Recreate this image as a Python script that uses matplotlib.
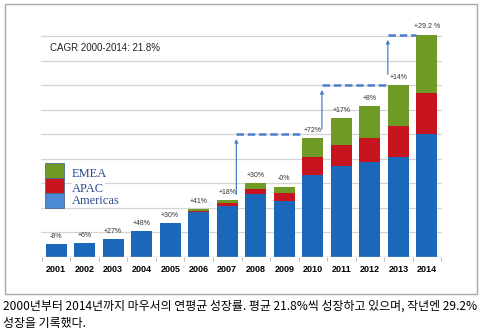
import numpy as np
import matplotlib.pyplot as plt
from matplotlib.patches import Rectangle

# data (grid units)
years = ['2001', '2002', '2003', '2004', '2005', '2006', '2007',
         '2008', '2009', '2010', '2011', '2012', '2013', '2014']
americas = [0.54, 0.57, 0.72, 1.07, 1.37, 1.82, 2.08, 2.56, 2.28, 3.33, 3.72, 3.85, 4.09, 4.99]
apac = [0, 0, 0, 0, 0, 0.06, 0.10, 0.20, 0.32, 0.74, 0.85, 0.98, 1.23, 1.69]
emea = [0, 0, 0, 0, 0, 0.06, 0.14, 0.24, 0.27, 0.78, 1.10, 1.30, 1.67, 2.38]
growth = ['-8%', '+6%', '+27%', '+48%', '+30%', '+41%', '+18%',
          '+30%', '-0%', '+72%', '+17%', '+8%', '+14%', '+29.2 %']
# (from bar, to bar, start level, new level)
steps = [(6, 9, 2.44, 5.0), (9, 12, 5.1, 7.0), (12, 13, 7.33, 9.04)]

c_am, c_ap, c_em = '#1b67b9', '#c8141e', '#6f9a25'
c_dash = '#4a7fcc'

fig = plt.figure(figsize=(4.83, 3.36), dpi=100)
fig.patches.append(Rectangle((5 / 483, 42 / 336), 472 / 483, 290 / 336,
                             transform=fig.transFigure, fill=False,
                             edgecolor='#a8a8a8', lw=1))
ax = fig.add_axes([41 / 483, 79 / 336, 401 / 483, 0.7015])

x = np.arange(len(years))
am = np.array(americas)
ap = np.array(apac)
em = np.array(emea)
w = 0.74
ax.bar(x, am, w, color=c_am, zorder=3)
ax.bar(x, ap, w, bottom=am, color=c_ap, zorder=3)
ax.bar(x, em, w, bottom=am + ap, color=c_em, zorder=3)

tot = am + ap + em
for i in range(len(years)):
    ax.annotate(growth[i], (x[i], tot[i]), xytext=(0, 3), textcoords='offset points',
                ha='center', va='bottom', fontsize=5, color='#333333',
                family='Liberation Sans')

for a, b, y0, y1 in steps:
    xa = a + w / 2 - 0.05 if a != 12 else a - w / 2
    xb = b - w / 2
    ax.annotate('', xy=(xa, y1 - 0.08), xytext=(xa, y0),
                arrowprops=dict(arrowstyle='-|>', color=c_dash, lw=0.9,
                                mutation_scale=5), zorder=4)
    ax.plot([xa, xb], [y1, y1], ls=(0, (3, 1.5)), color=c_dash, lw=1.8, zorder=4)

ax.set_xlim(-0.53, 13.53)
ax.set_ylim(0, 9.6)
for g in range(1, 10):
    ax.axhline(g, color='#d4d4d4', lw=0.9, zorder=1)
ax.axhline(0, color='#b0b0b0', lw=1, zorder=4)

ax.set_xticks(x)
ax.set_xticklabels(years, fontsize=6.5, fontweight='bold', family='Liberation Sans')
ax.set_xticks(np.arange(-0.5, 14, 1), minor=True)
ax.tick_params(axis='x', which='major', length=0, pad=6)
ax.tick_params(axis='x', which='minor', length=3, color='#b0b0b0')
ax.set_yticks([])
for s in ax.spines.values():
    s.set_visible(False)

ax.text(0.3 / 14 + 0.0, 8.5, 'CAGR 2000-2014: 21.8%', transform=ax.get_yaxis_transform(),
        fontsize=7, va='center', ha='left', color='#222222', family='Liberation Sans')

# hand made legend
lx0, lw_, lh = 45 / 483, 19 / 483, 15 / 336
for k, (col, name) in enumerate([(c_em, 'EMEA'), (c_ap, 'APAC'), ('#4b8bd6', 'Americas')]):
    yb = (336 - 178 - 15 * k) / 336
    fig.patches.append(Rectangle((lx0, yb), lw_, lh, transform=fig.transFigure,
                                 facecolor=col, edgecolor='#4a6a8a', lw=0.6, zorder=5))
ty = [174, 189, 201]
for k, name in enumerate(['EMEA', 'APAC', 'Americas']):
    fig.text(72 / 483, (336 - ty[k]) / 336, name, fontsize=9, va='center', ha='left',
             color='#2a4a8a', family='Liberation Serif',
             bbox=dict(facecolor='white', edgecolor='none', pad=0.3))

fig.text(0.006, (336 - 306) / 336,
         '2000년부터 2014년까지 마우서의 연평균 성장률. 평균 21.8%씩 성장하고 있으며, 작년엔 29.2%',
         fontsize=8.6, va='center', ha='left', family=['Noto Sans CJK KR', 'DejaVu Sans'])
fig.text(0.006, (336 - 323) / 336, '성장을 기록했다.',
         fontsize=8.6, va='center', ha='left', family=['Noto Sans CJK KR', 'DejaVu Sans'])

fig.savefig('out.png', dpi=100)
